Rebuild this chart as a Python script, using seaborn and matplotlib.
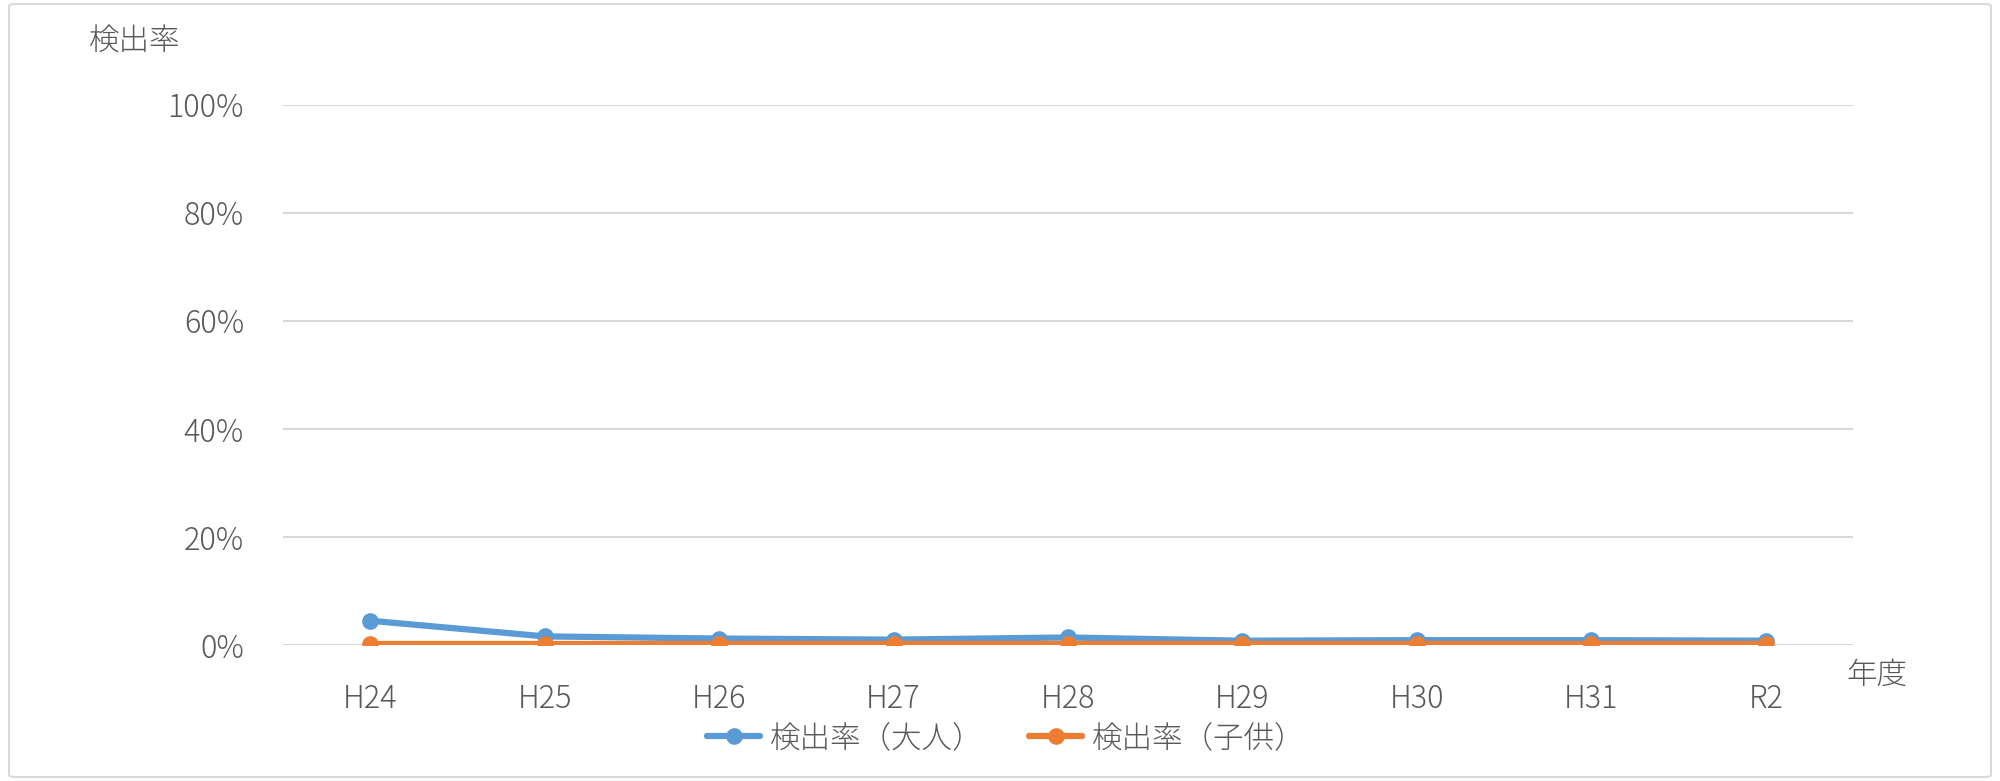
import matplotlib
matplotlib.use("Agg")
import matplotlib.pyplot as plt
import seaborn as sns
import pandas as pd
from matplotlib.patches import FancyBboxPatch
from matplotlib.ticker import PercentFormatter

years = ["H24", "H25", "H26", "H27", "H28", "H29", "H30", "H31", "R2"]
adult = [4.5, 1.6, 1.2, 1.0, 1.4, 0.8, 0.9, 0.9, 0.8]
child = [0.1, 0.1, 0.1, 0.1, 0.1, 0.1, 0.1, 0.1, 0.1]
series_names = ["検出率（大人）", "検出率（子供）"]
colors = ["#5B9BD5", "#ED7D31"]

rows = []
for name, vals in zip(series_names, [adult, child]):
    for i, (y, v) in enumerate(zip(years, vals)):
        rows.append({"idx": i, "year": y, "rate": v / 100.0, "series": name})
df = pd.DataFrame(rows)

sns.set_theme(style="white")
plt.rcParams["font.family"] = ["Noto Sans CJK JP", "DejaVu Sans"]
plt.rcParams["font.weight"] = 300
TXT = "#595959"
FS = 22

fig = plt.figure(figsize=(20, 7.81), dpi=100)
ax = fig.add_axes([0.1415, 0.1741, 0.785, 0.6915])

sns.lineplot(data=df, x="idx", y="rate", hue="series", palette=colors,
             marker="o", markersize=12, linewidth=4.5, markeredgewidth=0,
             ax=ax, legend=True)

ax.set_xlim(-0.5, len(years) - 0.5)
ax.set_ylim(0, 1.0)
ax.set_yticks([0, 0.2, 0.4, 0.6, 0.8, 1.0])
ax.yaxis.set_major_formatter(PercentFormatter(1.0, decimals=0))
ax.set_xticks(range(len(years)))
ax.set_xticklabels(years)
ax.grid(axis="y", color="#D9D9D9", linewidth=1.5)
ax.set_axisbelow(True)
for s in ax.spines.values():
    s.set_visible(False)
ax.tick_params(axis="y", length=0, pad=28, labelsize=FS, labelcolor=TXT)
ax.tick_params(axis="x", length=0, pad=27, labelsize=FS, labelcolor=TXT)
ax.set_xlabel("")
ax.set_ylabel("")

handles, labels = ax.get_legend_handles_labels()
ax.get_legend().remove()
fig.legend(handles, labels, loc="center", bbox_to_anchor=(0.503, 0.055),
           ncol=2, frameon=False, fontsize=FS, labelcolor=TXT,
           handlelength=1.75, handletextpad=0.3, columnspacing=1.5)

fig.text(135 / 2000, 1 - 41 / 781, "検出率", fontsize=FS, color=TXT,
         ha="center", va="center")
fig.text(1877 / 2000, 1 - 675 / 781, "年度", fontsize=FS, color=TXT,
         ha="center", va="center")

border = FancyBboxPatch((9 / 2000, 4 / 781), 1 - 18 / 2000, 1 - 8 / 781,
                        boxstyle="round,pad=0,rounding_size=0.003",
                        transform=fig.transFigure, fill=False,
                        edgecolor="#D9D9D9", linewidth=1.5)
fig.patches.append(border)

fig.savefig("out.png", dpi=100)
